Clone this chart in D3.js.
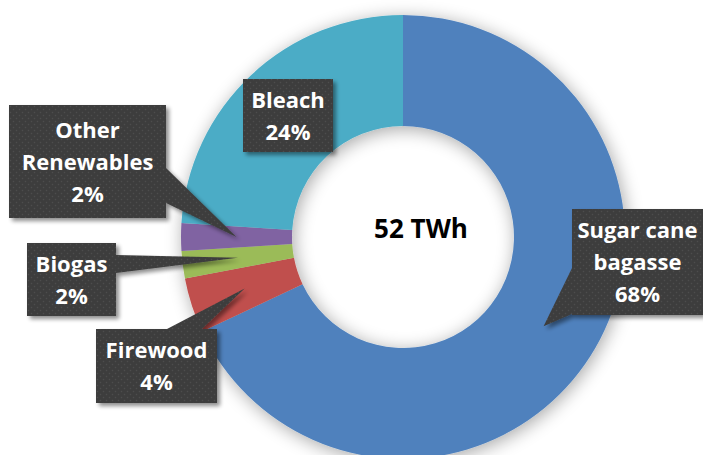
<!DOCTYPE html>
<html>
<head>
<meta charset="utf-8">
<script src="https://cdn.jsdelivr.net/npm/d3@7"></script>
<style>
  html, body { margin: 0; padding: 0; background: #fff; }
  svg { display: block; }
</style>
</head>
<body>
<svg id="chart" width="703" height="455"></svg>
<script>
// Energy sources (share of 52 TWh), clockwise from 12 o'clock
const categories = ["Sugar cane bagasse", "Firewood", "Biogas", "Other Renewables", "Bleach"];
const shares = [68, 4, 2, 2, 24];
const colors = ["#4F81BD", "#C0504D", "#9BBB59", "#8064A2", "#4BACC6"];
const totalLabel = "52 TWh";

// Callout boxes: rectangle, which edge carries the pointer, and the pointer base span
const callouts = {
  "Sugar cane bagasse": { lines: ["Sugar cane", "bagasse"], x: 572, y: 209, w: 131, h: 106, side: "left", base: [268, 314] },
  "Firewood": { lines: ["Firewood"], x: 96, y: 329, w: 121, h: 74, side: "top", base: [167, 202] },
  "Biogas": { lines: ["Biogas"], x: 27, y: 243, w: 89, h: 73, side: "right", base: [255, 273] },
  "Other Renewables": { lines: ["Other", "Renewables"], x: 9, y: 105, w: 157, h: 113, side: "right", base: [168, 203] },
  "Bleach": { lines: ["Bleach"], x: 243, y: 79, w: 90, h: 73, side: null }
};

const svg = d3.select("#chart");
const cx = 403, cy = 237, rOuter = 222, rInner = 111;
const fontFamily = "'Open Sans', Lato, sans-serif";

const defs = svg.append("defs");

// Soft halo around the ring
const ringShadow = defs.append("filter").attr("id", "ringShadow")
  .attr("x", "-30%").attr("y", "-30%").attr("width", "160%").attr("height", "160%");
ringShadow.append("feGaussianBlur").attr("in", "SourceAlpha").attr("stdDeviation", 9).attr("result", "b");
ringShadow.append("feOffset").attr("in", "b").attr("dx", 2).attr("dy", 3).attr("result", "o");
ringShadow.append("feComponentTransfer").attr("in", "o").attr("result", "s")
  .append("feFuncA").attr("type", "linear").attr("slope", 0.35);
const m1 = ringShadow.append("feMerge");
m1.append("feMergeNode").attr("in", "s");
m1.append("feMergeNode").attr("in", "SourceGraphic");

// Callout shadow
const boxShadow = defs.append("filter").attr("id", "boxShadow")
  .attr("x", "-20%").attr("y", "-20%").attr("width", "140%").attr("height", "140%");
boxShadow.append("feGaussianBlur").attr("in", "SourceAlpha").attr("stdDeviation", 2).attr("result", "b");
boxShadow.append("feOffset").attr("in", "b").attr("dx", 3).attr("dy", 3).attr("result", "o");
boxShadow.append("feComponentTransfer").attr("in", "o").attr("result", "s")
  .append("feFuncA").attr("type", "linear").attr("slope", 0.45);
const m2 = boxShadow.append("feMerge");
m2.append("feMergeNode").attr("in", "s");
m2.append("feMergeNode").attr("in", "SourceGraphic");

// Dotted dark texture for callouts
const pat = defs.append("pattern").attr("id", "dots")
  .attr("patternUnits", "userSpaceOnUse").attr("width", 6).attr("height", 6);
pat.append("rect").attr("width", 6).attr("height", 6).attr("fill", "#3d3d3d");
pat.append("circle").attr("cx", 1.5).attr("cy", 1.5).attr("r", 0.8).attr("fill", "#4d4d4d");
pat.append("circle").attr("cx", 4.5).attr("cy", 4.5).attr("r", 0.8).attr("fill", "#4d4d4d");

const pie = d3.pie().sort(null).value(d => d.value);
const arcs = pie(categories.map((c, i) => ({ name: c, value: shares[i], color: colors[i] })));
const arc = d3.arc().innerRadius(rInner).outerRadius(rOuter);

const g = svg.append("g").attr("transform", `translate(${cx},${cy})`);
g.append("g").attr("filter", "url(#ringShadow)")
  .selectAll("path").data(arcs).join("path")
  .attr("d", arc)
  .attr("fill", d => d.data.color);

// Total in the hole
svg.append("text")
  .attr("x", 421).attr("y", 238)
  .attr("text-anchor", "middle")
  .attr("font-family", fontFamily)
  .attr("font-weight", 700)
  .attr("font-size", 26)
  .attr("fill", "#000")
  .text(totalLabel);

// Build a box outline with a pointer to the slice centroid
function calloutPath(c, tip) {
  const x0 = c.x, y0 = c.y, x1 = c.x + c.w, y1 = c.y + c.h;
  const p = d3.path();
  p.moveTo(x0, y0);
  if (c.side === "top") { p.lineTo(c.base[0], y0); p.lineTo(tip[0], tip[1]); p.lineTo(c.base[1], y0); }
  p.lineTo(x1, y0);
  if (c.side === "right") { p.lineTo(x1, c.base[0]); p.lineTo(tip[0], tip[1]); p.lineTo(x1, c.base[1]); }
  p.lineTo(x1, y1);
  p.lineTo(x0, y1);
  if (c.side === "left") { p.lineTo(x0, c.base[1]); p.lineTo(tip[0], tip[1]); p.lineTo(x0, c.base[0]); }
  p.closePath();
  return p.toString();
}

const lh = 32, capHalf = 8;
const labels = svg.append("g");
arcs.forEach(d => {
  const c = callouts[d.data.name];
  const cen = arc.centroid(d);
  const tip = [cx + cen[0], cy + cen[1]];
  const lg = labels.append("g");
  lg.append("path")
    .attr("d", calloutPath(c, tip))
    .attr("fill", "url(#dots)")
    .attr("filter", "url(#boxShadow)");
  const lines = c.lines.concat([d.data.value + "%"]);
  const mx = c.x + c.w / 2, my = c.y + c.h / 2;
  lines.forEach((t, i) => {
    lg.append("text")
      .attr("x", mx)
      .attr("y", my + (i - (lines.length - 1) / 2) * lh + capHalf)
      .attr("text-anchor", "middle")
      .attr("font-family", fontFamily)
      .attr("font-weight", 700)
      .attr("font-size", 22)
      .attr("fill", "#fff")
      .text(t);
  });
});
</script>
</body>
</html>
